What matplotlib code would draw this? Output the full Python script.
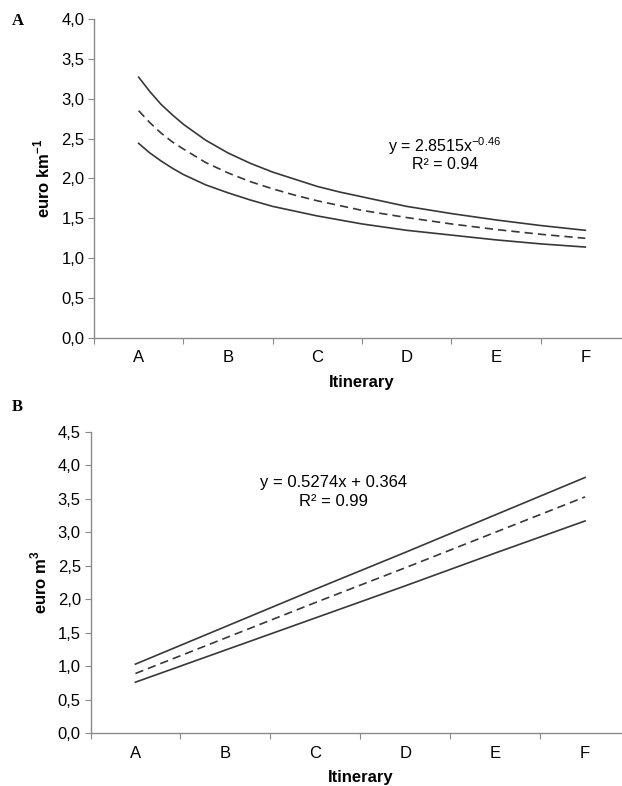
"""Cost per km (A) and per m3 (B) by itinerary, with fitted trend and bounds."""
import matplotlib
matplotlib.use("Agg")
import matplotlib.pyplot as plt
from matplotlib.ticker import FixedLocator, FuncFormatter

plt.rcParams["font.family"] = ["Liberation Sans", "DejaVu Sans"]
plt.rcParams["mathtext.fontset"] = "custom"
plt.rcParams["mathtext.rm"] = "Liberation Sans"
plt.rcParams["mathtext.bf"] = "Liberation Sans:bold"

itineraries = ["A", "B", "C", "D", "E", "F"]

# panel A: readings along the curves (position in itinerary steps, A = 0)
a_pos = [0, 0.125, 0.25, 0.375, 0.5, 0.75, 1, 1.25, 1.5, 1.75, 2, 2.25,
         2.5, 3, 3.5, 4, 4.5, 5]
a_upper = [3.27, 3.09, 2.93, 2.80, 2.68, 2.48, 2.32, 2.19, 2.08, 1.99, 1.90, 1.83,
           1.77, 1.65, 1.56, 1.48, 1.41, 1.35]
a_fit = [2.85, 2.70, 2.57, 2.46, 2.37, 2.20, 2.07, 1.96, 1.87, 1.79, 1.72, 1.66,
         1.60, 1.51, 1.43, 1.36, 1.30, 1.25]
a_lower = [2.44, 2.32, 2.22, 2.13, 2.05, 1.92, 1.82, 1.73, 1.65, 1.59, 1.53, 1.48,
           1.43, 1.35, 1.29, 1.23, 1.18, 1.14]

# panel B: one reading per itinerary
b_upper = [1.03, 1.59, 2.15, 2.70, 3.26, 3.82]
b_fit = [0.89, 1.42, 1.95, 2.47, 3.00, 3.53]
b_lower = [0.76, 1.24, 1.72, 2.20, 2.69, 3.17]

LINE = "#383838"
AXIS = "#8a8a8a"


def style_axes(ax, ymax, ylabel):
    n = len(itineraries)
    ax.set_xlim(-0.5, n - 0.5)
    ax.set_ylim(0, ymax)
    for side in ("top", "right"):
        ax.spines[side].set_visible(False)
    for side in ("left", "bottom"):
        ax.spines[side].set_color(AXIS)
        ax.spines[side].set_linewidth(1.0)
    ax.xaxis.set_major_locator(FixedLocator([i - 0.5 for i in range(n + 1)]))
    ax.xaxis.set_minor_locator(FixedLocator(list(range(n))))
    ax.xaxis.set_major_formatter(FuncFormatter(lambda v, p: ""))
    ax.set_xticklabels(itineraries, minor=True)
    ax.tick_params(axis="x", which="major", length=4, color=AXIS, direction="out")
    ax.tick_params(axis="x", which="minor", length=0, pad=9, labelsize=12)
    ticks = [i * 0.5 for i in range(int(ymax / 0.5) + 1)]
    ax.set_yticks(ticks)
    ax.set_yticklabels([f"{t:.1f}".replace(".", ",") for t in ticks])
    ax.tick_params(axis="y", length=4, color=AXIS, direction="out", labelsize=12, pad=3)
    ax.set_xlabel("Itinerary", fontsize=12, fontweight="bold", labelpad=7)
    ax.set_ylabel(ylabel, fontsize=12, fontweight="bold", labelpad=6)


fig = plt.figure(figsize=(6.22, 7.86), dpi=100)

ax1 = fig.add_axes([0.1511, 0.5700, 0.8617, 0.4059])
ax1.plot(a_pos, a_upper, color=LINE, lw=1.2)
ax1.plot(a_pos, a_fit, color=LINE, lw=1.2, ls=(0, (5, 3)))
ax1.plot(a_pos, a_lower, color=LINE, lw=1.2)
style_axes(ax1, 4.0, r"euro km$^{\mathbf{-1}}$")
ax1.text(3.43, 2.41, r"y = 2.8515x$^{-0.46}$", ha="center", va="center", fontsize=11.5)
ax1.text(3.43, 2.17, "R² = 0.94", ha="center", va="center", fontsize=11.5)

ax2 = fig.add_axes([0.1455, 0.0674, 0.8674, 0.3830])
xs = list(range(len(itineraries)))
ax2.plot(xs, b_upper, color=LINE, lw=1.2)
ax2.plot(xs, b_fit, color=LINE, lw=1.2, ls=(0, (5, 3)))
ax2.plot(xs, b_lower, color=LINE, lw=1.2)
style_axes(ax2, 4.5, r"euro m$^{\mathbf{3}}$")
ax2.text(2.2, 3.74, "y = 0.5274x + 0.364", ha="center", va="center", fontsize=12)
ax2.text(2.2, 3.46, "R² = 0.99", ha="center", va="center", fontsize=12)

fig.text(12 / 622, 1 - 21 / 786, "A", fontsize=12, fontweight="bold",
         family=["Liberation Serif", "DejaVu Serif"], ha="left", va="center")
fig.text(12 / 622, 1 - 407 / 786, "B", fontsize=12, fontweight="bold",
         family=["Liberation Serif", "DejaVu Serif"], ha="left", va="center")

fig.savefig("out.png", dpi=100)
